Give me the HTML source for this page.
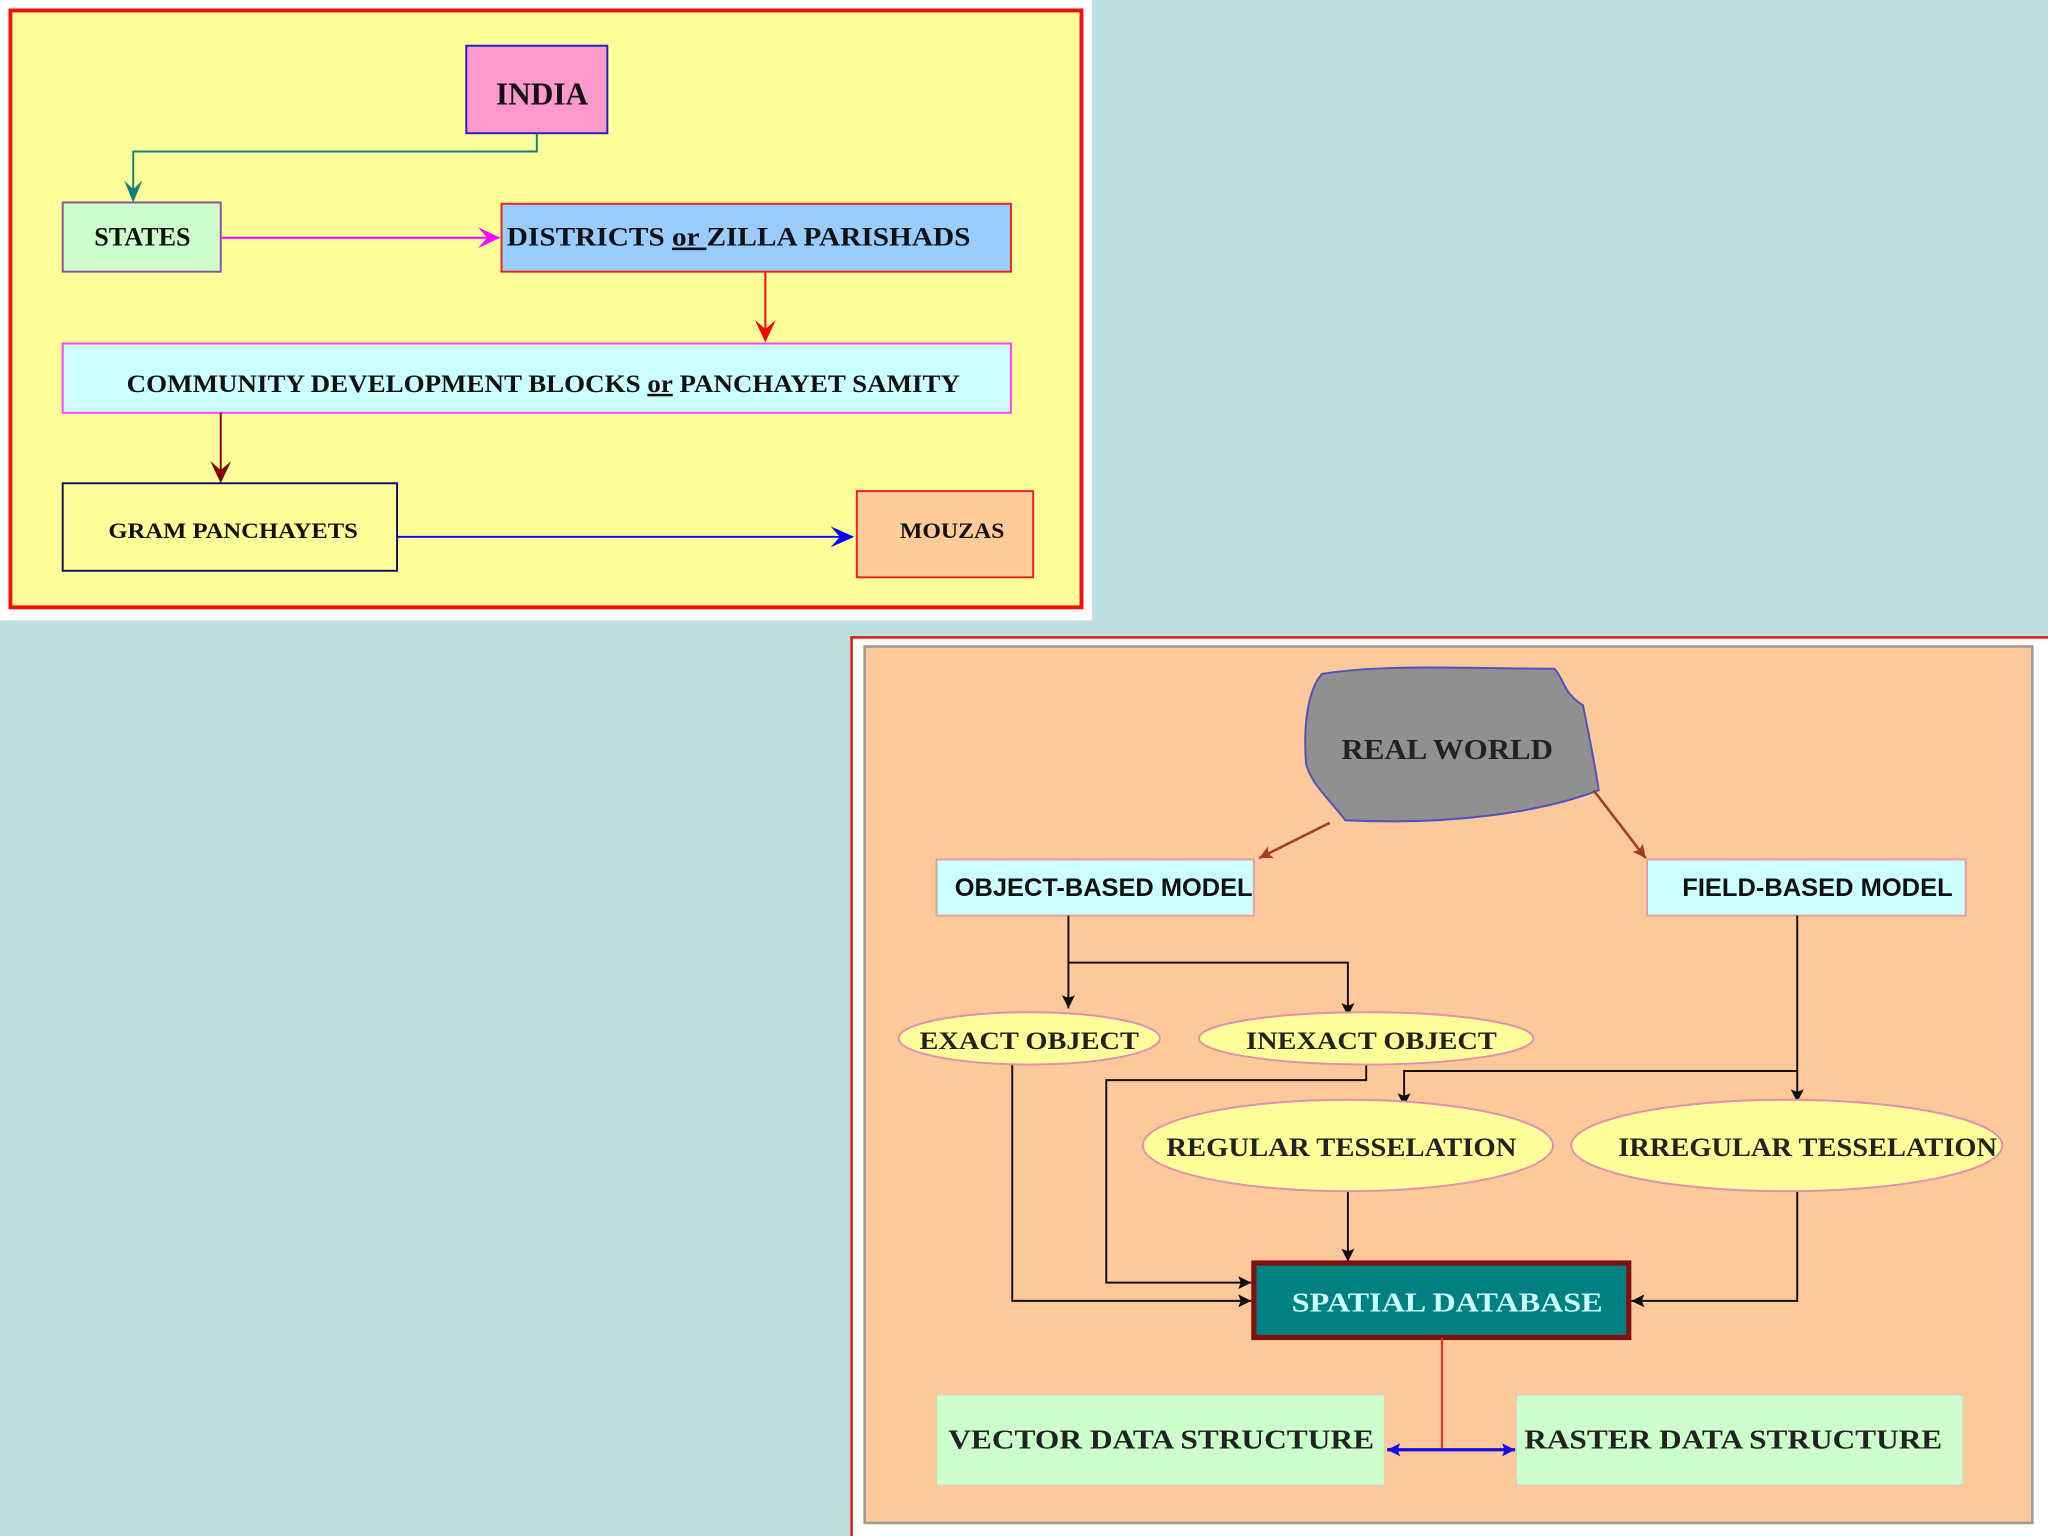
<!DOCTYPE html>
<html><head><meta charset="utf-8"><style>
html,body{margin:0;padding:0;background:#bcdfe1;}
svg{display:block}
.s{font-family:"Liberation Serif",serif;font-weight:bold}
.a{font-family:"Liberation Sans",sans-serif;font-weight:bold}
text{fill:#111}
</style></head><body>
<svg width="2048" height="1536" viewBox="0 0 1568 1176" xmlns="http://www.w3.org/2000/svg">
<defs>
<marker id="m" viewBox="0 0 10 10" refX="10" refY="5" markerWidth="10" markerHeight="10" orient="auto-start-reverse" markerUnits="userSpaceOnUse"><path d="M0,0 L10,5 L0,10 L2,5z" fill="context-stroke"/></marker>
</defs>
<rect width="1568" height="1176" fill="#bcdfe1"/>
<rect x="0" y="0" width="836" height="475" fill="#fff"/>
<rect x="8" y="8" width="820" height="457" fill="#ffff99" stroke="#f01010" stroke-width="3"/>
<rect x="357" y="35" width="108" height="67" fill="#ff99cc" stroke="#2020c0" stroke-width="1.5"/>
<text x="415" y="80" class="s" font-size="24" text-anchor="middle">INDIA</text>
<polyline points="411,102 411,116 102,116 102,153" fill="none" stroke="#108080" stroke-width="1.5"/>
<path d="M95,138 L102,155 L109,138 L102,145z" fill="#108080"/>
<rect x="48" y="155" width="121" height="53" fill="#ccffcc" stroke="#9050a0" stroke-width="1.5"/>
<text x="109" y="188" class="s" font-size="20" text-anchor="middle">STATES</text>
<line x1="169" y1="182" x2="381" y2="182" stroke="#ff00ff" stroke-width="1.5"/>
<path d="M366,174 L383,182 L366,190 L373,182z" fill="#ff00ff"/>
<rect x="384" y="156" width="390" height="52" fill="#99ccff" stroke="#f02020" stroke-width="1.5"/>
<text x="388" y="188" class="s" font-size="20" textLength="355" lengthAdjust="spacingAndGlyphs">DISTRICTS <tspan text-decoration="underline">or </tspan>ZILLA PARISHADS</text>
<line x1="586" y1="208" x2="586" y2="260" stroke="#ff0000" stroke-width="1.5"/>
<path d="M578,245 L586,262 L594,245 L586,252z" fill="#ff0000"/>
<rect x="48" y="263" width="726" height="53" fill="#ccffff" stroke="#ff40ff" stroke-width="1.5"/>
<text x="97" y="300" class="s" font-size="19" textLength="638" lengthAdjust="spacingAndGlyphs">COMMUNITY DEVELOPMENT BLOCKS <tspan text-decoration="underline">or</tspan> PANCHAYET SAMITY</text>
<line x1="169" y1="316" x2="169" y2="368" stroke="#800000" stroke-width="1.5"/>
<path d="M161,353 L169,370 L177,353 L169,360z" fill="#800000"/>
<rect x="48" y="370" width="256" height="67" fill="#ffff99" stroke="#101060" stroke-width="1.5"/>
<text x="83" y="412" class="s" font-size="17" textLength="191" lengthAdjust="spacingAndGlyphs">GRAM PANCHAYETS</text>
<line x1="304" y1="411" x2="652" y2="411" stroke="#0000ff" stroke-width="1.5"/>
<path d="M636,403 L654,411 L636,419 L643,411z" fill="#0000ff"/>
<rect x="656" y="376" width="135" height="66" fill="#ffcc99" stroke="#f02020" stroke-width="1.5"/>
<text x="689" y="412" class="s" font-size="17" textLength="80" lengthAdjust="spacingAndGlyphs">MOUZAS</text>

<rect x="652" y="488" width="920" height="692" fill="#fff" stroke="#e02020" stroke-width="2"/>
<rect x="662" y="495" width="894" height="671" fill="#fdc99a" stroke="#a09a90" stroke-width="2"/>
<path d="M1012,516 C1060,508 1130,512 1190,512 C1198,520 1196,530 1212,540 C1216,560 1222,590 1224,605 C1180,622 1110,632 1030,628 C1016,610 1004,600 1000,585 C998,560 1000,530 1012,516z" fill="#909090" stroke="#5050c0" stroke-width="1.5"/>
<text x="1108" y="581" class="s" font-size="22" text-anchor="middle" textLength="162" lengthAdjust="spacingAndGlyphs" style="fill:#222">REAL WORLD</text>
<line x1="1018" y1="630" x2="964" y2="657" stroke="#a04020" stroke-width="2" marker-end="url(#m)"/>
<line x1="1220" y1="605" x2="1260" y2="657" stroke="#a04020" stroke-width="2" marker-end="url(#m)"/>
<rect x="717" y="658" width="243" height="43" fill="#ccffff" stroke="#e0a0a0" stroke-width="1.5"/>
<text x="731" y="686" class="a" font-size="19" textLength="228" lengthAdjust="spacingAndGlyphs">OBJECT-BASED MODEL</text>
<rect x="1261" y="658" width="244" height="43" fill="#ccffff" stroke="#e0a0a0" stroke-width="1.5"/>
<text x="1288" y="686" class="a" font-size="19" textLength="207" lengthAdjust="spacingAndGlyphs">FIELD-BASED MODEL</text>
<g fill="none" stroke="#111" stroke-width="1.5" marker-end="url(#m)">
<line x1="818" y1="701" x2="818" y2="772"/>
<polyline points="818,737 1032,737 1032,778"/>
<line x1="1376" y1="701" x2="1376" y2="844"/>
<polyline points="1376,820 1075,820 1075,847"/>
<polyline points="775,813 775,996 958,996"/>
<polyline points="1046,813 1046,827 847,827 847,982 958,982"/>
<line x1="1032" y1="912" x2="1032" y2="966"/>
<polyline points="1376,912 1376,996 1249,996"/>
</g>
<ellipse cx="788" cy="795" rx="100" ry="20" fill="#ffff99" stroke="#e090b0" stroke-width="1.5"/>
<text x="788" y="803" class="s" font-size="19" text-anchor="middle" textLength="168" lengthAdjust="spacingAndGlyphs" style="fill:#222">EXACT OBJECT</text>
<ellipse cx="1046" cy="795" rx="128" ry="20" fill="#ffff99" stroke="#e090b0" stroke-width="1.5"/>
<text x="1050" y="803" class="s" font-size="19" text-anchor="middle" textLength="192" lengthAdjust="spacingAndGlyphs" style="fill:#222">INEXACT OBJECT</text>
<ellipse cx="1032" cy="877" rx="157" ry="35" fill="#ffff99" stroke="#e090b0" stroke-width="1.5"/>
<text x="1027" y="885" class="s" font-size="20" text-anchor="middle" textLength="268" lengthAdjust="spacingAndGlyphs" style="fill:#222">REGULAR TESSELATION</text>
<ellipse cx="1368" cy="877" rx="165" ry="35" fill="#ffff99" stroke="#e090b0" stroke-width="1.5"/>
<text x="1384" y="885" class="s" font-size="20" text-anchor="middle" textLength="290" lengthAdjust="spacingAndGlyphs" style="fill:#222">IRREGULAR TESSELATION</text>
<rect x="960" y="967" width="287" height="57" fill="#008080" stroke="#801010" stroke-width="4"/>
<text x="1108" y="1004" class="s" font-size="21" text-anchor="middle" textLength="238" lengthAdjust="spacingAndGlyphs" style="fill:#ccffff">SPATIAL DATABASE</text>
<rect x="717" y="1068" width="343" height="69" fill="#ccffcc" stroke="#e0d0b0" stroke-width="1"/>
<text x="726" y="1109" class="s" font-size="21" textLength="326" lengthAdjust="spacingAndGlyphs" style="fill:#222">VECTOR DATA STRUCTURE</text>
<rect x="1161" y="1068" width="342" height="69" fill="#ccffcc" stroke="#e0d0b0" stroke-width="1"/>
<text x="1167" y="1109" class="s" font-size="21" textLength="320" lengthAdjust="spacingAndGlyphs" style="fill:#222">RASTER DATA STRUCTURE</text>
<line x1="1104" y1="1024" x2="1104" y2="1110" stroke="#ff2020" stroke-width="1.5"/>
<line x1="1062" y1="1110" x2="1160" y2="1110" stroke="#1010e0" stroke-width="2.5" marker-start="url(#m)" marker-end="url(#m)"/>
</svg>
</body></html>
